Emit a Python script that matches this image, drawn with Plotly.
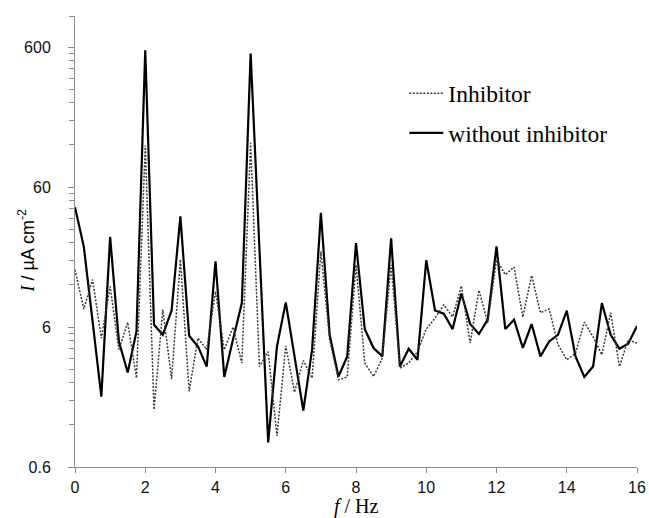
import numpy as np
import plotly.graph_objects as go

freq = [i * 0.25 for i in range(65)]

without_inhibitor = [
    43, 22.6, 6.6, 1.91, 26.4, 4.73, 2.84, 5.58,
    569, 6.23, 5.28, 7.88, 37, 5.2, 4.36, 3.13,
    17.7, 2.64, 4.9, 8.9, 539, 22, 0.9, 4.36,
    9.0, 3.7, 1.52, 4.13, 39.2, 5.28, 2.66, 3.7,
    23.9, 5.8, 4.25, 3.7, 25.8, 3.13, 4.2, 3.5,
    18.0, 7.88, 7.47, 5.8, 10.4, 6.3, 5.35, 6.77,
    22.6, 5.8, 6.77, 4.25, 6.3, 3.7, 4.73, 5.28,
    7.85, 3.7, 2.64, 3.13, 8.9, 5.28, 4.2, 4.56,
    6.1,
]

inhibitor = [
    15.4, 8.07, 13.1, 5.0, 11.7, 4.13, 6.47, 2.59,
    119, 1.54, 7.98, 2.55, 18.2, 2.08, 5.0, 4.13,
    10.8, 4.13, 6.0, 3.32, 124, 3.13, 4.0, 1.0,
    4.4, 2.05, 3.46, 2.59, 20.8, 4.87, 2.52, 2.64,
    16.7, 3.32, 2.66, 3.6, 16.7, 3.05, 3.32, 4.0,
    5.8, 6.95, 8.65, 7.1, 11.8, 4.6, 11.0, 6.4,
    18.2, 14.2, 16.1, 7.07, 14.0, 7.6, 8.07, 4.5,
    3.5, 3.9, 6.5, 5.1, 3.8, 7.6, 3.13, 4.87,
    4.6,
]

y_ticks = [0.6, 6, 60, 600]
y_ticktext = ["0.6", "6", "60", "600"]
y_minor = [k * 0.6 * 10 ** n for n in range(4) for k in range(2, 10) if k * 0.6 * 10 ** n < 1000] + [1000]
x_ticks = list(range(0, 17, 2))

axis_col = "#8c8c8c"
serif = "Liberation Serif"
sans = "Liberation Sans"

fig = go.Figure()
fig.add_trace(go.Scatter(
    x=freq, y=without_inhibitor, mode="lines", name="without inhibitor",
    line=dict(color="black", width=2.2), legendgroup="b", legendrank=2,
))
fig.add_trace(go.Scatter(
    x=freq, y=inhibitor, mode="lines", name="Inhibitor",
    line=dict(color="#3a3a3a", width=1.5, dash="2px,1.5px"), legendgroup="a", legendrank=1,
))

fig.update_layout(
    width=649, height=518,
    margin=dict(l=75, r=12, t=16, b=51, autoexpand=False),
    paper_bgcolor="white", plot_bgcolor="white",
    showlegend=True,
    legend=dict(
        x=0.586, y=0.877, xanchor="left", yanchor="top",
        font=dict(family=serif, size=23.5, color="black"),
        bgcolor="rgba(0,0,0,0)", tracegroupgap=6, itemwidth=34,
    ),
    xaxis=dict(
        range=[0, 16], tickvals=x_ticks, showgrid=False, zeroline=False,
        showline=True, linecolor=axis_col, linewidth=1, automargin=False,
        ticks="outside", ticklen=5, tickcolor=axis_col,
        tickfont=dict(family=sans, size=16, color="#111111"),
        ticklabelstandoff=1,
    ),
    yaxis=dict(
        type="log", range=[np.log10(0.6), 3], automargin=False,
        tickvals=y_ticks, ticktext=y_ticktext, showgrid=False, zeroline=False,
        showline=True, linecolor=axis_col, linewidth=1,
        ticks="outside", ticklen=6, tickcolor=axis_col,
        tickfont=dict(family=sans, size=16, color="#111111"),
        ticklabelstandoff=14,
        minor=dict(tickvals=y_minor, ticks="outside", ticklen=5, tickcolor=axis_col, showgrid=False),
    ),
    annotations=[
        dict(text="<i>f</i> / Hz", xref="paper", yref="paper", x=0.5, y=0.0,
             xanchor="center", yanchor="middle", yshift=-39, showarrow=False,
             font=dict(family=serif, size=20, color="black")),
        dict(text="<i><span style='font-family:Liberation Serif'>I</span></i> / µA cm<sup>-2</sup>",
             xref="paper", yref="paper", x=0, y=0.5, xshift=-48, yshift=-9,
             xanchor="center", yanchor="middle", textangle=-90, showarrow=False,
             font=dict(family=sans, size=18, color="black")),
    ],
)

fig.write_html("out.html")
